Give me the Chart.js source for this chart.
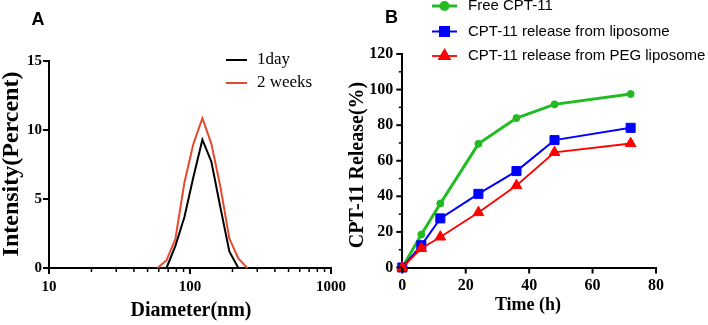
<!DOCTYPE html>
<html>
<head>
<meta charset="utf-8">
<script src="https://cdn.jsdelivr.net/npm/chart.js@4.4.1/dist/chart.umd.min.js"></script>
<style>
  html, body { margin: 0; padding: 0; background: #fff; width: 708px; height: 325px; overflow: hidden; }
  .box { position: absolute; top: 0; }
</style>
</head>
<body>
<div class="box" style="left:0;width:360px;height:325px"><canvas id="sizeChart" width="360" height="325"></canvas></div>
<div class="box" style="left:340px;width:368px;height:325px"><canvas id="releaseChart" width="368" height="325"></canvas></div>
<script>
// Panel A - size distribution (DLS bins)
const diameters = [58.8, 68.1, 78.8, 91.3, 105.7, 122.4, 141.8, 164.2, 190.1, 220.2, 255.0];
const oneDay = [null, 0, 1.6, 3.7, 6.6, 9.3, 7.7, 4.4, 1.2, 0, null];
const twoWeeks = [0, 0.55, 2.1, 6.2, 9.0, 10.85, 9.0, 5.9, 2.15, 0.7, 0];
const sizeTicksY = [0, 5, 10, 15];
const sizeTicksX = [10, 100, 1000];

// Panel B - release over time
const hours = [0, 6, 12, 24, 36, 48, 72];
const freeCpt = [0, 18.5, 36, 69.5, 84, 91.7, 97.5];
const liposome = [0, 12.5, 27.6, 41.4, 54.2, 71.6, 78.5];
const pegLiposome = [0, 10.7, 17.2, 30.9, 46.1, 64.7, 69.7];
const releaseTicksX = [0, 20, 40, 60, 80];
const releaseTicksY = [0, 20, 40, 60, 80, 100, 120];

const SERIF = "'Liberation Serif', 'Times New Roman', serif";
const SANS = "'Liberation Sans', Arial, sans-serif";

function pts(xs, ys) {
  return xs.map((x, i) => ({ x: x, y: ys[i] }));
}

// ticks drawn by hand so minor ticks can be shorter
function drawTicks(ctx, scale, values, len, width) {
  ctx.save();
  ctx.strokeStyle = '#000';
  ctx.lineWidth = width;
  values.forEach(v => {
    const p = scale.getPixelForValue(v);
    ctx.beginPath();
    if (scale.isHorizontal()) {
      ctx.moveTo(p, scale.top);
      ctx.lineTo(p, scale.top + len);
    } else {
      ctx.moveTo(scale.right, p);
      ctx.lineTo(scale.right - len, p);
    }
    ctx.stroke();
  });
  ctx.restore();
}

function text(ctx, str, x, y, font, rot, align) {
  ctx.save();
  ctx.fillStyle = '#000';
  ctx.font = font;
  ctx.textAlign = align || 'center';
  ctx.textBaseline = 'middle';
  ctx.translate(x, y);
  if (rot) ctx.rotate(rot);
  ctx.fillText(str, 0, 0);
  ctx.restore();
}

const baseAxis = (min, max) => ({
  min: min,
  max: max,
  grid: { display: false, drawTicks: false },
  border: { display: true, color: '#000', width: 2 },
  ticks: { color: '#000', autoSkip: false, maxRotation: 0 }
});

// ---------- Panel A ----------
const sizeDecor = {
  id: 'sizeDecor',
  afterDraw(chart) {
    const ctx = chart.ctx;
    const x = chart.scales.x, y = chart.scales.y;
    const minors = [];
    [10, 100].forEach(d => { for (let k = 2; k <= 9; k++) minors.push(d * k); });
    drawTicks(ctx, x, sizeTicksX, 6, 2);
    drawTicks(ctx, x, minors, 4, 1.5);
    drawTicks(ctx, y, sizeTicksY, 6, 2);

    text(ctx, 'A', 38, 20, 'bold 18px ' + SANS);
    text(ctx, 'Intensity(Percent)', 12, 164, 'bold 24px ' + SERIF, -Math.PI / 2);
    text(ctx, 'Diameter(nm)', 191, 311, 'bold 20px ' + SERIF);

    // legend
    const items = [['1day', '#000'], ['2 weeks', '#e64a2e']];
    items.forEach((it, i) => {
      const ly = 60 + i * 23;
      ctx.save();
      ctx.strokeStyle = it[1];
      ctx.lineWidth = 2;
      ctx.beginPath();
      ctx.moveTo(226, ly);
      ctx.lineTo(247, ly);
      ctx.stroke();
      ctx.restore();
      text(ctx, it[0], 257, ly, '17px ' + SERIF, 0, 'left');
    });
  }
};

new Chart(document.getElementById('sizeChart'), {
  type: 'line',
  data: {
    datasets: [
      { label: '1day', data: pts(diameters, oneDay), borderColor: '#000', borderWidth: 2, pointRadius: 0, clip: false, tension: 0 },
      { label: '2 weeks', data: pts(diameters, twoWeeks), borderColor: '#e64a2e', borderWidth: 2, pointRadius: 0, clip: false, tension: 0 }
    ]
  },
  options: {
    responsive: false,
    animation: false,
    devicePixelRatio: 1,
    layout: { padding: { left: 0, top: 61, right: 29, bottom: 0 } },
    plugins: { legend: { display: false }, tooltip: { enabled: false } },
    scales: {
      x: Object.assign(baseAxis(10, 1000), {
        type: 'logarithmic',
        afterFit: s => { s.height = 57; },
        ticks: {
          color: '#000', autoSkip: false, maxRotation: 0, padding: 10,
          font: { family: SERIF, size: 15, weight: 'bold' },
          callback: v => sizeTicksX.some(t => Math.abs(t - v) < 1e-6) ? String(v) : ''
        }
      }),
      y: Object.assign(baseAxis(0, 15), {
        type: 'linear',
        afterFit: s => { s.width = 49; },
        ticks: {
          color: '#000', stepSize: 5, padding: 7,
          font: { family: SERIF, size: 15, weight: 'bold' }
        }
      })
    }
  },
  plugins: [sizeDecor]
});

// ---------- Panel B ----------
const releaseSeries = [
  { label: 'Free CPT-11', data: freeCpt, color: '#22bb22', style: 'circle', radius: 3.5, width: 3, order: 2 },
  { label: 'CPT-11 release from liposome', data: liposome, color: '#0000ff', style: 'rect', radius: 6.4, width: 2, order: 1 },
  { label: 'CPT-11 release from PEG liposome', data: pegLiposome, color: '#ff0000', style: 'triangle', radius: 6.2, width: 1.8, order: 0 }
];

const releaseDecor = {
  id: 'releaseDecor',
  afterDraw(chart) {
    const ctx = chart.ctx;
    const x = chart.scales.x, y = chart.scales.y;
    const minorY = [10, 30, 50, 70, 90, 110];
    drawTicks(ctx, x, releaseTicksX, 6, 2);
    drawTicks(ctx, y, releaseTicksY, 6, 2);
    drawTicks(ctx, y, minorY, 3.5, 1.5);

    text(ctx, 'B', 51.5, 18.5, 'bold 18px ' + SANS);
    text(ctx, 'CPT-11 Release(%)', 18, 165, 'bold 20px ' + SERIF, -Math.PI / 2);
    text(ctx, 'Time (h)', 188, 305, 'bold 18px ' + SERIF);

    // legend
    const lys = [6, 31.5, 56];
    releaseSeries.forEach((s, i) => {
      const ly = lys[i];
      ctx.save();
      ctx.strokeStyle = s.color;
      ctx.fillStyle = s.color;
      ctx.lineWidth = s.width;
      ctx.beginPath();
      ctx.moveTo(92, ly);
      ctx.lineTo(117, ly);
      ctx.stroke();
      Chart.helpers.drawPoint(ctx, { pointStyle: s.style, radius: s.radius, rotation: 0, borderWidth: 1 }, 104.5, ly);
      ctx.restore();
      text(ctx, s.label, 128, ly, '15px ' + SANS, 0, 'left');
    });
  }
};

new Chart(document.getElementById('releaseChart'), {
  type: 'line',
  data: {
    datasets: releaseSeries.map(s => ({
      label: s.label,
      data: pts(hours, s.data),
      borderColor: s.color,
      backgroundColor: s.color,
      borderWidth: s.width,
      pointStyle: s.style,
      pointRadius: s.radius,
      pointBorderWidth: 1,
      pointBackgroundColor: s.color,
      pointBorderColor: s.color,
      order: s.order,
      clip: false,
      tension: 0
    }))
  },
  options: {
    responsive: false,
    animation: false,
    devicePixelRatio: 1,
    layout: { padding: { left: 0, top: 54, right: 52, bottom: 0 } },
    plugins: { legend: { display: false }, tooltip: { enabled: false } },
    scales: {
      x: Object.assign(baseAxis(0, 80), {
        type: 'linear',
        afterFit: s => { s.height = 57.5; },
        ticks: {
          color: '#000', stepSize: 20, autoSkip: false, maxRotation: 0, padding: 9,
          font: { family: SERIF, size: 16, weight: 'bold' }
        }
      }),
      y: Object.assign(baseAxis(0, 120), {
        type: 'linear',
        afterFit: s => { s.width = 62.3; },
        ticks: {
          color: '#000', stepSize: 20, padding: 9,
          font: { family: SERIF, size: 16, weight: 'bold' }
        }
      })
    }
  },
  plugins: [releaseDecor]
});
</script>
</body>
</html>
